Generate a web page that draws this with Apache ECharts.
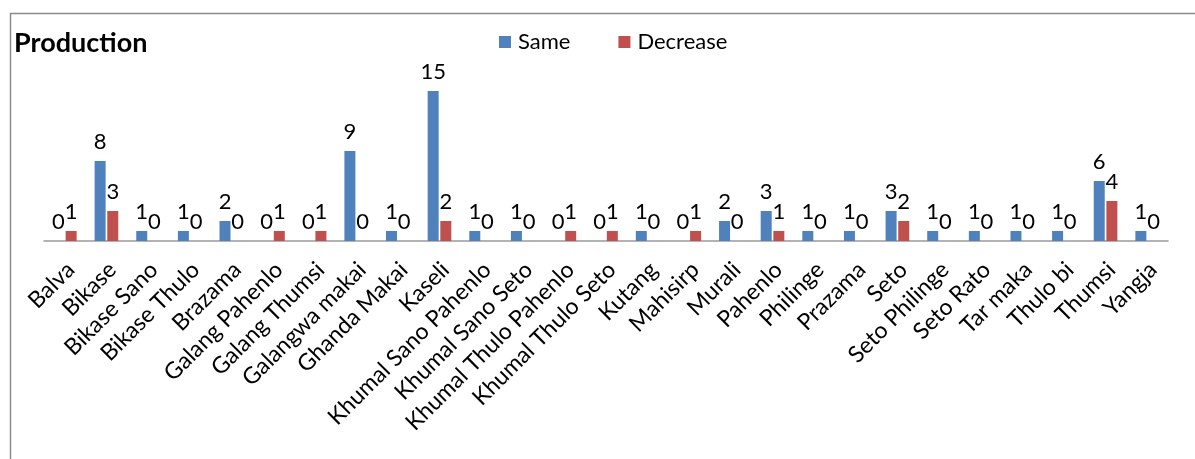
<!DOCTYPE html>
<html>
<head>
<meta charset="utf-8">
<script src="https://cdn.jsdelivr.net/npm/echarts@6/dist/echarts.min.js"></script>
<style>
html,body{margin:0;padding:0;background:#fff;}
#chart{width:1195px;height:459px;}
</style>
</head>
<body>
<div id="chart"></div>
<script>
const categories = ["Balva","Bikase","Bikase Sano","Bikase Thulo","Brazama","Galang Pahenlo","Galang Thumsi","Galangwa makai","Ghanda Makai","Kaseli","Khumal Sano Pahenlo","Khumal Sano Seto","Khumal Thulo Pahenlo","Khumal Thulo Seto","Kutang","Mahisirp","Murali","Pahenlo","Philinge","Prazama","Seto","Seto Philinge","Seto Rato","Tar maka","Thulo bi","Thumsi","Yangja"];
const sameValues =     [0,8,1,1,2,0,0,9,1,15,1,1,0,0,1,0,2,3,1,1,3,1,1,1,1,6,1];
const decreaseValues = [1,3,0,0,0,1,1,0,0,2,0,0,1,1,0,1,0,1,0,0,2,0,0,0,0,4,0];
const seriesNames = ["Same","Decrease"];
const titleText = "Production";

const FONT = "Lato, 'Open Sans', sans-serif";
const chart = echarts.init(document.getElementById('chart'), null, {renderer:'canvas'});
const labelStyle = {show:true, position:'top', distance:8, fontSize:22, color:'#000', fontFamily:FONT};
chart.setOption({
  animation:false,
  backgroundColor:'#fff',
  graphic:[{type:'rect', left:8, top:11, shape:{x:0,y:0,width:1300,height:600}, style:{fill:'none', stroke:'#8c8c8c', lineWidth:1.5}, z:-1}],
  title:{text:titleText, left:9, top:25, textStyle:{fontFamily:FONT, fontWeight:'bold', fontSize:27, color:'#000'}},
  legend:{left:494, top:26, itemWidth:12, itemHeight:12, itemGap:48, icon:'rect',
    textStyle:{fontFamily:FONT, fontSize:22, color:'#000', padding:[0,0,0,2]}, data:seriesNames},
  grid:[{left:44, right:27, top:81, bottom:218, containLabel:false},
        {left:50, right:21, top:81, bottom:218, containLabel:false}],
  xAxis:[{type:'category', data:categories, gridIndex:0,
    axisLine:{show:true, lineStyle:{color:'#9a9a9a', width:1.5}},
    axisTick:{show:false}, axisLabel:{show:false}},
    {type:'category', data:categories, gridIndex:1,
    axisLine:{show:false}, axisTick:{show:false},
    axisLabel:{interval:0, rotate:45, margin:25, fontSize:23, color:'#000', fontFamily:FONT}}],
  yAxis:[{type:'value', min:0, max:16, show:false, gridIndex:0},
         {type:'value', min:0, max:16, show:false, gridIndex:1}],
  series:[
    {name:seriesNames[0], type:'bar', data:sameValues, barWidth:11, barGap:'15%', itemStyle:{color:'#4F81BD'}, label:labelStyle},
    {name:seriesNames[1], type:'bar', data:decreaseValues, barWidth:11, itemStyle:{color:'#C0504D'}, label:labelStyle}
  ]
});
</script>
</body>
</html>
